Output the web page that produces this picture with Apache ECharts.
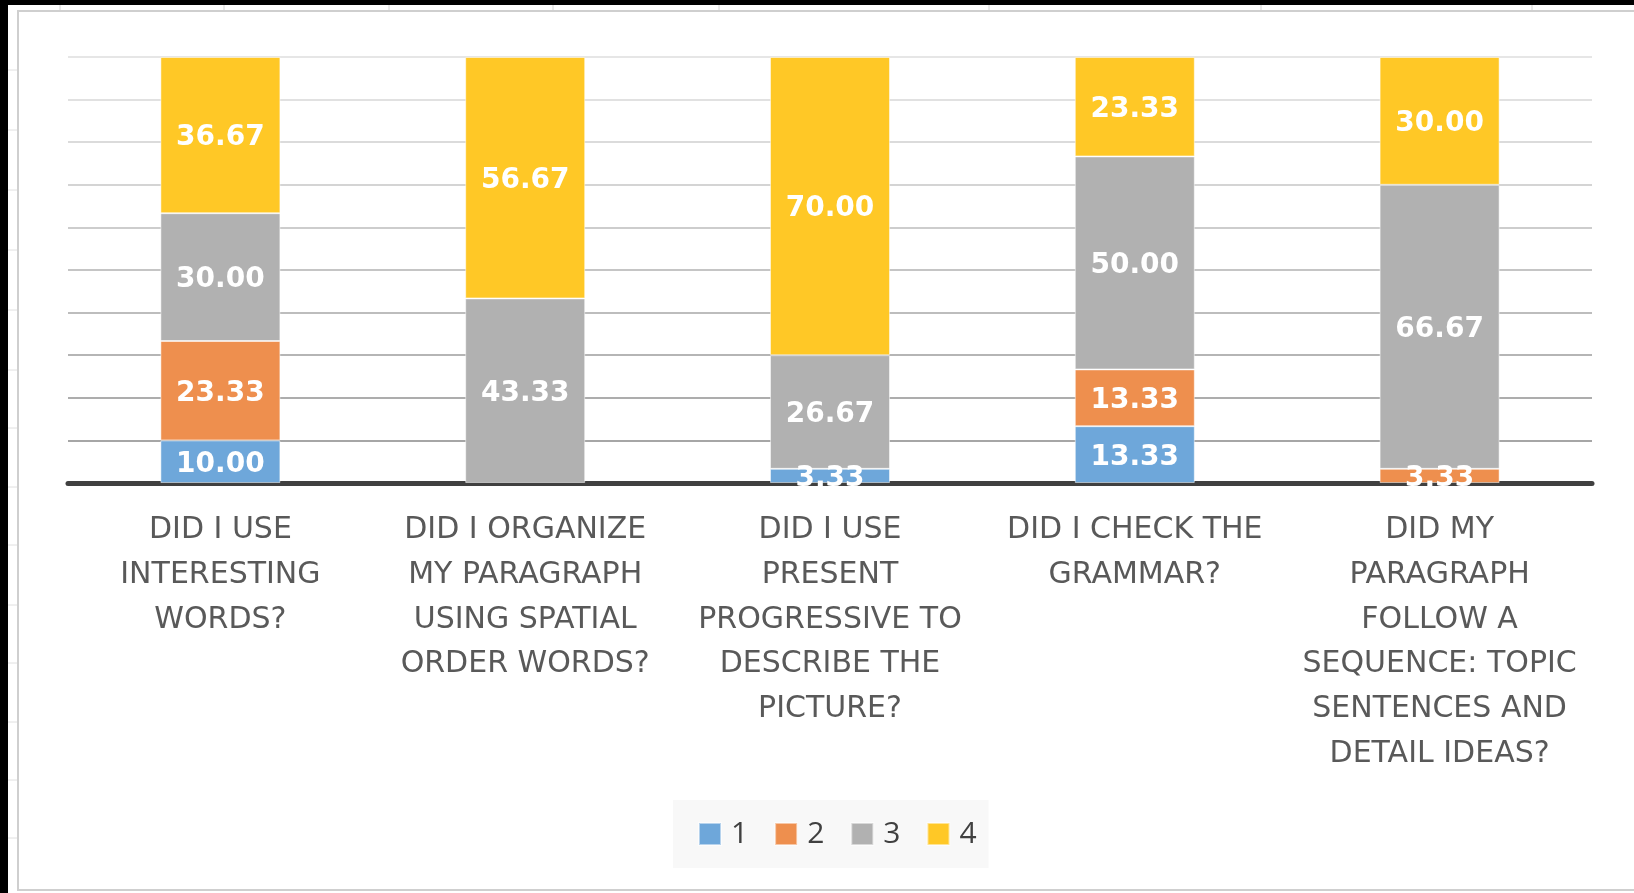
<!DOCTYPE html>
<html>
<head>
<meta charset="utf-8">
<script src="https://cdn.jsdelivr.net/npm/echarts@6/dist/echarts.min.js"></script>
<style>
html,body{margin:0;padding:0;background:#fff;}
#chart{width:1634px;height:893px;}
</style>
</head>
<body>
<div id="chart"></div>
<script>
const categories = [
  "DID I USE\nINTERESTING\nWORDS?",
  "DID I ORGANIZE\nMY PARAGRAPH\nUSING SPATIAL\nORDER WORDS?",
  "DID I USE\nPRESENT\nPROGRESSIVE TO\nDESCRIBE THE\nPICTURE?",
  "DID I CHECK THE\nGRAMMAR?",
  "DID MY\nPARAGRAPH\nFOLLOW A\nSEQUENCE: TOPIC\nSENTENCES AND\nDETAIL IDEAS?"
];
const seriesNames = ["1", "2", "3", "4"];
const values1 = [10.00, 0, 3.33, 13.33, 0];
const values2 = [23.33, 0, 0, 13.33, 3.33];
const values3 = [30.00, 43.33, 26.67, 50.00, 66.67];
const values4 = [36.67, 56.67, 70.00, 23.33, 30.00];
const colors = ["#6EA7DA", "#EE8F4E", "#B1B1B1", "#FFC826"];

const chart = echarts.init(document.getElementById('chart'));
const allValues = [values1, values2, values3, values4];

const series = allValues.map((vals, i) => ({
  name: seriesNames[i],
  type: 'bar',
  stack: 'total',
  barWidth: 120,
  data: vals.map(v => (v === 0 ? null : v)),
  itemStyle: { color: colors[i], borderColor: 'rgba(255,255,255,0.5)', borderWidth: 1 },
  label: {
    show: true,
    position: 'inside',
    offset: [0, 3],
    color: '#fff',
    fontFamily: 'DejaVu Sans',
    fontWeight: 'bold',
    fontSize: 28,
    formatter: p => (p.value > 0 ? p.value.toFixed(2) : '')
  },
  emphasis: { disabled: true }
}));

const vLines = [60, 224, 389, 553, 719, 989, 1261, 1532];
const hLines = [70, 130, 190, 250, 310, 370, 428, 487, 545, 605, 663, 722, 780, 838];
const graphics = [
  { type: 'rect', shape: { x: 0, y: 0, width: 8, height: 893 }, style: { fill: '#000' }, silent: true },
  { type: 'rect', shape: { x: 0, y: 0, width: 1634, height: 5 }, style: { fill: '#000' }, silent: true },
  { type: 'rect', shape: { x: 18, y: 11, width: 1640, height: 879 }, style: { fill: 'none', stroke: '#cfcfcf', lineWidth: 2 }, silent: true }
];
vLines.forEach(x => graphics.push({ type: 'line', shape: { x1: x, y1: 5, x2: x, y2: 10 }, style: { stroke: '#d4d4d4', lineWidth: 1 }, silent: true }));
hLines.forEach(y => graphics.push({ type: 'line', shape: { x1: 8, y1: y, x2: 17, y2: y }, style: { stroke: '#e0e0e0', lineWidth: 1 }, silent: true }));

chart.setOption({
  animation: false,
  backgroundColor: '#fff',
  graphic: graphics,
  grid: { left: 68, right: 42, top: 57, bottom: 410, containLabel: false },
  legend: {
    data: seriesNames,
    left: 673,
    top: 800,
    padding: [19, 12, 19, 25],
    backgroundColor: '#f8f8f8',
    itemWidth: 22,
    itemHeight: 22,
    itemGap: 26,
    icon: 'rect',
    textStyle: { fontFamily: 'Open Sans', fontSize: 30, color: '#404040', padding: [0, 0, 0, 5] }
  },
  xAxis: {
    type: 'category',
    data: categories,
    axisLine: { show: true, lineStyle: { color: '#404040', width: 5 } },
    axisTick: { show: false },
    axisLabel: {
      interval: 0,
      margin: 25,
      fontFamily: 'DejaVu Sans',
      fontSize: 30,
      lineHeight: 44.7,
      color: '#595959',
      align: 'center'
    },
    splitLine: { show: false }
  },
  yAxis: {
    type: 'value',
    min: 0,
    max: 100,
    interval: 10,
    axisLabel: { show: false },
    axisLine: { show: false },
    axisTick: { show: false },
    splitLine: {
      show: true,
      lineStyle: {
        width: 2,
        color: ['#888888', '#a6a6a6', '#adadad', '#b5b5b5', '#bdbdbd', '#c5c5c5', '#cdcdcd', '#d4d4d4', '#dbdbdb', '#e1e1e1', '#e6e6e6']
      }
    }
  },
  series: series
});
</script>
</body>
</html>
